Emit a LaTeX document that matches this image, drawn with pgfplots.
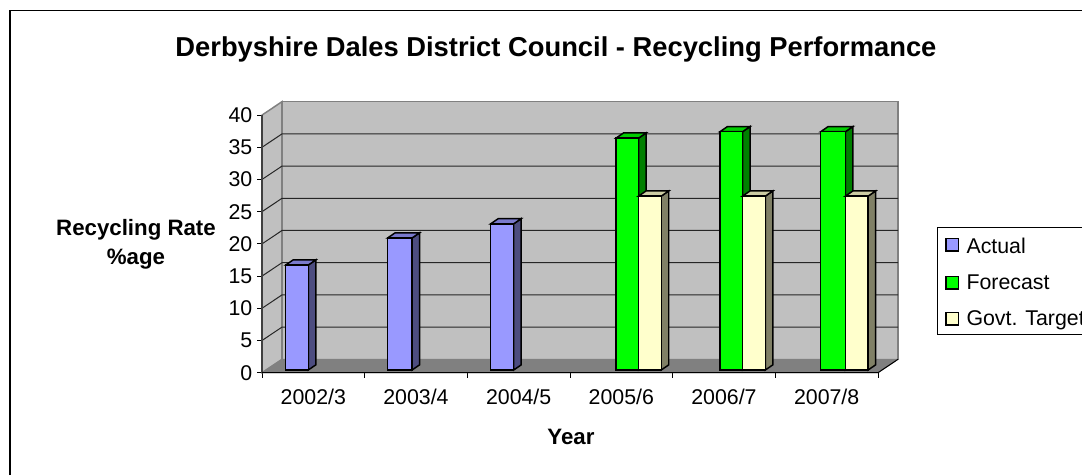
\documentclass[border=0pt]{standalone}
\usepackage{pgfplots}
\pgfplotsset{compat=1.18}
\usepackage{fontspec}
\setmainfont{Liberation Sans}

\definecolor{wall}{HTML}{C0C0C0}
\definecolor{floorc}{HTML}{808080}
\definecolor{actual}{HTML}{9999FF}
\definecolor{actualside}{HTML}{4D4D80}
\definecolor{actualtop}{HTML}{7A7ACC}
\definecolor{forecast}{HTML}{00FF00}
\definecolor{forecastside}{HTML}{008000}
\definecolor{forecasttop}{HTML}{00CC00}
\definecolor{target}{HTML}{FFFFCC}
\definecolor{targetside}{HTML}{808066}
\definecolor{targettop}{HTML}{CCCCA3}

% depth of the bars, in axis units
\pgfmathsetmacro\bdx{0.073}
\pgfmathsetmacro\bdy{0.8}
\pgfmathsetmacro\base{0.42}

% left, right, value, colour prefix
\newcommand\threedbar[4]{%
  \pgfmathsetmacro\xr{#2+\bdx}%
  \pgfmathsetmacro\xl{#1+\bdx}%
  \pgfmathsetmacro\yt{#3+\base}%
  \pgfmathsetmacro\ytb{#3+\base+\bdy}%
  \pgfmathsetmacro\ybb{\base+\bdy}%
  \edef\temp{%
    \noexpand\addplot[barline,fill=#4side] coordinates {(#2,\base)(\xr,\ybb)(\xr,\ytb)(#2,\yt)} -- cycle;
    \noexpand\addplot[barline,fill=#4top] coordinates {(#1,\yt)(\xl,\ytb)(\xr,\ytb)(#2,\yt)} -- cycle;
    \noexpand\addplot[barline,fill=#4] coordinates {(#1,\base)(#2,\base)(#2,\yt)(#1,\yt)} -- cycle;
  }\temp
}

\pgfplotsset{
  barline/.style={forget plot,draw=black,line width=1.1pt,line join=miter},
  swatch/.style={legend image code/.code={\draw[draw=black,line width=0.9pt,fill=#1] (0pt,-4.6pt) rectangle (9.2pt,4.6pt);}},
}

\begin{document}
\begin{tikzpicture}[x=0.75pt,y=0.75pt]
\draw[black,line width=0.9pt] (10,0) -- (10,464.7) -- (1082,464.7);
\begin{axis}[
  at={(262*0.75pt,102.3*0.75pt)}, anchor=south west,
  scale only axis,
  width=477pt, height=203.8pt,
  xmin=0, xmax=6.195, ymin=0, ymax=42.19,
  clip=false,
  axis line style={draw=none},
  ytick={0,5,...,40},
  xtick={0.5,1.5,...,5.5},
  xticklabels={2002/3,2003/4,2004/5,2005/6,2006/7,2007/8},
  minor xtick={0,1,...,6},
  tick align=outside,
  xtick pos=bottom, ytick pos=left,
  major tick length=3.75pt, minor tick length=3.75pt,
  ytick style={black,line width=0.6pt},
  minor x tick style={black,line width=0.6pt},
  major x tick style={draw=none},
  xticklabel style={yshift=-5pt},
  tick label style={font=\fontsize{16}{18}\selectfont},
  /pgf/number format/assume math mode=true,
  legend style={at={(1.0613,0.1388)},anchor=south west,
    draw=black,line width=0.6pt,font=\fontsize{16}{18}\selectfont,
    /tikz/every odd column/.append style={column sep=3.75pt},
    row sep=10.4pt,inner xsep=6pt,inner ysep=3.5pt,cells={anchor=west}},
  legend cell align=left,
]
% walls and floor
\addplot[forget plot,draw=floorc,line width=1.1pt,fill=wall]
  coordinates {(0,0)(0.195,2.08)(0.195,42.08)(0,40)} -- cycle;
\addplot[forget plot,draw=floorc,line width=1.1pt,fill=wall]
  coordinates {(0.195,2.08)(6.195,2.08)(6.195,42.08)(0.195,42.08)} -- cycle;
\addplot[forget plot,draw=floorc,line width=0.6pt,fill=floorc]
  coordinates {(0,0)(6,0)(6.195,2.08)(0.195,2.08)} -- cycle;
% gridlines
\addplot[forget plot,black!85,line width=0.75pt] coordinates {(0,5)(0.195,7.08)(6.195,7.08)};
\addplot[forget plot,black!85,line width=0.75pt] coordinates {(0,10)(0.195,12.08)(6.195,12.08)};
\addplot[forget plot,black!85,line width=0.75pt] coordinates {(0,15)(0.195,17.08)(6.195,17.08)};
\addplot[forget plot,black!85,line width=0.75pt] coordinates {(0,20)(0.195,22.08)(6.195,22.08)};
\addplot[forget plot,black!85,line width=0.75pt] coordinates {(0,25)(0.195,27.08)(6.195,27.08)};
\addplot[forget plot,black!85,line width=0.75pt] coordinates {(0,30)(0.195,32.08)(6.195,32.08)};
\addplot[forget plot,black!85,line width=0.75pt] coordinates {(0,35)(0.195,37.08)(6.195,37.08)};
% axis lines at the front
\addplot[forget plot,black!75,line width=0.9pt] coordinates {(0,40)(0,0)};
\addplot[forget plot,black,line width=0.75pt] coordinates {(0,0)(6,0)(6.195,2.08)};

\threedbar{0.231}{0.451}{16.3}{actual}
\threedbar{1.224}{1.462}{20.5}{actual}
\threedbar{2.228}{2.452}{22.7}{actual}
\threedbar{3.448}{3.668}{36}{forecast}
\threedbar{3.668}{3.889}{27}{target}
\threedbar{4.461}{4.681}{37}{forecast}
\threedbar{4.681}{4.903}{27}{target}
\threedbar{5.442}{5.683}{37}{forecast}
\threedbar{5.683}{5.904}{27}{target}

\addlegendimage{swatch=actual}
\addlegendentry{\rule{0pt}{14pt}Actual}
\addlegendimage{swatch=forecast}
\addlegendentry{Forecast}
\addlegendimage{swatch=target}
\addlegendentry{Govt. Target}
\end{axis}
\node[font=\fontsize{20.5}{22}\selectfont\bfseries] at (556,426) {Derbyshire Dales District Council - Recycling Performance};
\node[font=\fontsize{16.7}{21.75}\selectfont\bfseries,align=center] at (136,231) {Recycling Rate\\\%age};
\node[font=\fontsize{16.7}{18}\selectfont\bfseries] at (571,38) {Year};
\pgfresetboundingbox
\path[use as bounding box] (0,0) rectangle (1082,475);
\end{tikzpicture}
\end{document}
